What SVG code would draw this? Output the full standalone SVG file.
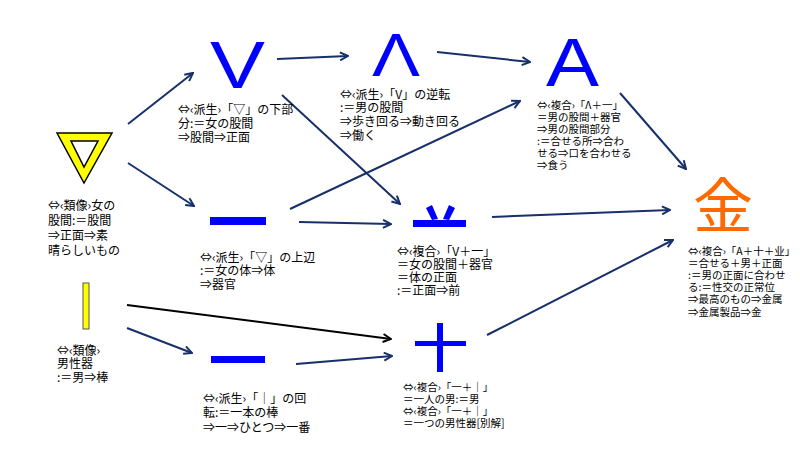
<svg xmlns="http://www.w3.org/2000/svg" width="800" height="450" viewBox="0 0 800 450">
<defs>
<marker id="ah" markerWidth="10" markerHeight="10" refX="9" refY="5" orient="auto" markerUnits="userSpaceOnUse"><path d="M1,1 L9,5 L1,9" fill="none" stroke="#17306b" stroke-width="2"/></marker>
<marker id="ahk" markerWidth="10" markerHeight="10" refX="9" refY="5" orient="auto" markerUnits="userSpaceOnUse"><path d="M1,1 L9,5 L1,9" fill="none" stroke="#000" stroke-width="2"/></marker>
</defs>
<style>
.c{stroke:#17306b;stroke-width:2;fill:none;marker-end:url(#ah)}
.k{stroke:#000;stroke-width:2;fill:none;marker-end:url(#ahk)}
.t{font-family:"Noto Sans CJK JP","Liberation Sans",sans-serif;font-size:12px;fill:#000}
.s{font-size:10.5px}
.big{font-family:"Liberation Sans",sans-serif;fill:#0000ff}
.blue{fill:#0000ff}
</style>
<rect width="800" height="450" fill="#fff"/>
<g id="connectors">
<line class="c" x1="128" y1="124" x2="193" y2="73"/>
<line class="c" x1="128" y1="163" x2="194" y2="206"/>
<line class="c" x1="277" y1="59" x2="348" y2="56"/>
<line class="c" x1="437" y1="52" x2="530" y2="62"/>
<line class="c" x1="282" y1="95" x2="400" y2="204"/>
<line class="c" x1="290" y1="209" x2="520" y2="101"/>
<line class="c" x1="299" y1="222" x2="391" y2="224"/>
<line class="c" x1="620" y1="93" x2="686" y2="169"/>
<line class="c" x1="492" y1="217" x2="670" y2="210"/>
<line class="k" x1="127" y1="305" x2="391" y2="339"/>
<line class="c" x1="127" y1="328" x2="192" y2="353"/>
<line class="c" x1="296" y1="364" x2="392" y2="356"/>
<line class="c" x1="487" y1="335" x2="673" y2="240"/>
</g>
<g id="tri">
<path d="M57,133 L112,133 L84,183 Z M71,141 L98,141 L84,167 Z" fill="#ffff00" fill-rule="evenodd" stroke="#000" stroke-width="1.5"/>
<text class="t" x="48" y="210">⇔‹類像›女の</text>
<text class="t" x="48" y="225">股間:＝股間</text>
<text class="t" x="48" y="240">⇒正面⇒素</text>
<text class="t" x="48" y="255">晴らしいもの</text>
</g>
<g id="V">
<text class="big" x="210" y="88" font-size="66" textLength="55" lengthAdjust="spacingAndGlyphs">V</text>
<text class="t" x="178" y="114">⇔‹派生›「▽」の下部</text>
<text class="t" x="178" y="128">分:＝女の股間</text>
<text class="t" x="178" y="142">⇒股間⇒正面</text>
</g>
<g id="L">
<text class="big" x="372" y="76" font-size="62" textLength="48" lengthAdjust="spacingAndGlyphs">Λ</text>
<text class="t" x="340" y="99">⇔‹派生›「V」の逆転</text>
<text class="t" x="340" y="112">:＝男の股間</text>
<text class="t" x="340" y="126">⇒歩き回る⇒動き回る</text>
<text class="t" x="340" y="140">⇒働く</text>
</g>
<g id="A">
<text class="big" x="546" y="86" font-size="68" textLength="53" lengthAdjust="spacingAndGlyphs">A</text>
<text class="t s" x="537" y="109">⇔‹複合›「Λ＋一」</text>
<text class="t s" x="537" y="121">＝男の股間＋器官</text>
<text class="t s" x="537" y="133">⇒男の股間部分</text>
<text class="t s" x="537" y="145">:＝合せる所⇒合わ</text>
<text class="t s" x="537" y="157">せる⇒口を合わせる</text>
<text class="t s" x="537" y="169">⇒食う</text>
</g>
<g id="ichi1">
<rect class="blue" x="210" y="217" width="56" height="8"/>
<text class="t" x="200" y="262">⇔‹派生›「▽」の上辺</text>
<text class="t" x="200" y="275">:＝女の体⇒体</text>
<text class="t" x="200" y="289">⇒器官</text>
</g>
<g id="gyo">
<rect class="blue" x="413" y="220" width="53" height="7"/>
<path class="blue" d="M426,208 L432,205 L438,219 L432,220 Z M449,205 L455,208 L449,220 L443,219 Z"/>
<text class="t" x="397" y="256">⇔‹複合›「V＋一」</text>
<text class="t" x="397" y="269">＝女の股間＋器官</text>
<text class="t" x="397" y="282">＝体の正面</text>
<text class="t" x="397" y="295">:＝正面⇒前</text>
</g>
<g id="kin">
<text x="723" y="228" text-anchor="middle" font-family="'Noto Sans CJK JP',sans-serif" font-size="60" fill="#ff6a00">金</text>
<text class="t s" x="688" y="255">⇔‹複合›「A＋十＋业」</text>
<text class="t s" x="688" y="267">＝合せる＋男＋正面</text>
<text class="t s" x="688" y="279">:＝男の正面に合わせ</text>
<text class="t s" x="688" y="291">る:＝性交の正常位</text>
<text class="t s" x="688" y="303">⇒最高のもの⇒金属</text>
<text class="t s" x="688" y="316">⇒金属製品⇒金</text>
</g>
<g id="bar">
<rect x="83" y="283" width="6" height="46" fill="#ffff00" stroke="#555" stroke-width="1"/>
<text class="t" x="57" y="355">⇔‹類像›</text>
<text class="t" x="57" y="368">男性器</text>
<text class="t" x="57" y="382">:＝男⇒棒</text>
</g>
<g id="ichi2">
<rect class="blue" x="211" y="356" width="54" height="7"/>
<text class="t" x="203" y="403">⇔‹派生›「｜」の回</text>
<text class="t" x="203" y="417">転:＝一本の棒</text>
<text class="t" x="203" y="432">⇒一⇒ひとつ⇒一番</text>
</g>
<g id="ju">
<rect class="blue" x="415" y="341" width="51" height="5"/>
<rect class="blue" x="437" y="323" width="6" height="49"/>
<text class="t s" x="403" y="391">⇔‹複合›「一＋｜」</text>
<text class="t s" x="403" y="403">＝一人の男:＝男</text>
<text class="t s" x="403" y="415">⇔‹複合›「一＋｜」</text>
<text class="t s" x="403" y="427">＝一つの男性器[別解]</text>
</g>
</svg>
